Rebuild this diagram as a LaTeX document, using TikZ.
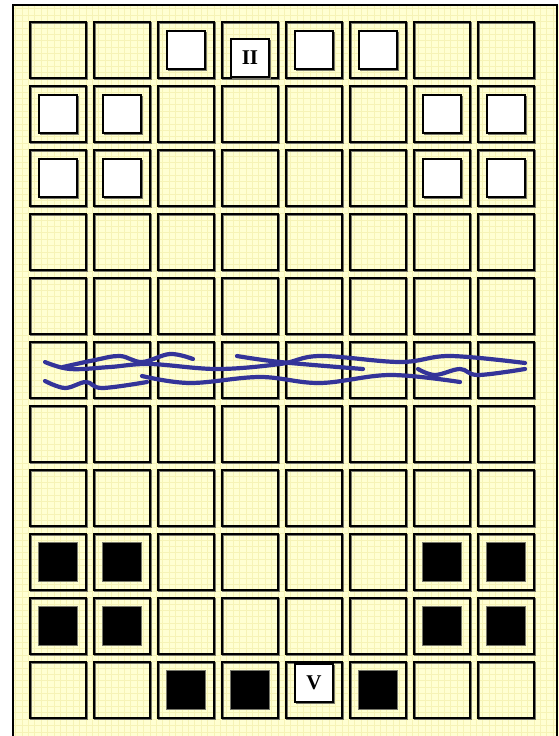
\documentclass[tikz,border=0pt]{standalone}
\usepackage{fontspec}
\setmainfont{Liberation Serif}
\definecolor{brdCream}{HTML}{FFFFD2}
\definecolor{brdGrid}{HTML}{F6F3B6}
\definecolor{brdBlue}{HTML}{343499}
\definecolor{brdShade}{HTML}{77776A}
\tikzset{
  brd frame/.style={draw=black, line width=2pt},
  brd grid/.style={draw=brdGrid, line width=0.5pt},
  brd cell/.style={rectangle, draw=black, line width=2pt, minimum size=56pt, inner sep=0pt, outer sep=0pt,
    preaction={draw=brdShade, line width=2pt, transform canvas={xshift=1.2pt, yshift=-1.2pt}}},
  brd white/.style={rectangle, draw=black, fill=white, line width=1.6pt, minimum size=37.5pt, inner sep=0pt,
    preaction={draw=brdShade, line width=1.6pt, transform canvas={xshift=1.2pt, yshift=-1.2pt}}},
  brd black/.style={rectangle, draw=brdShade, fill=black, line width=1pt, minimum size=39pt, inner sep=0pt},
  brd label/.style={font=\bfseries\fontsize{21}{21}\selectfont},
  brd wave/.style={draw=brdBlue, line width=4.2pt, line cap=round, line join=round},
}
\begin{document}
\begin{tikzpicture}[x=1pt,y=-1pt]
  \useasboundingbox (0,0) rectangle (559,736);
  % Board background with its fine grid
  \fill[brdCream] (12.8,4.8) rectangle (559,736);
  \foreach \gx in {15.4,21.8,...,556} \draw[brd grid] (\gx,5) -- (\gx,736);
  \foreach \gy in {8.6,15,...,736} \draw[brd grid] (13,\gy) -- (556,\gy);
  \draw[brd frame] (12.8,745) -- (12.8,4.8) -- (556.8,4.8) -- (556.8,745);
  % Eleven rows of eight squares
  \foreach \r in {1,...,11}
    \foreach \c in {1,...,8}
      \node[brd cell] (c-\r-\c) at ({58+64*(\c-1)},{50+64*(\r-1)}) {};
  % White pieces at the top
  \foreach \r/\c in {1/3,1/5,1/6,2/1,2/2,2/7,2/8,3/1,3/2,3/7,3/8}
    \node[brd white] (w-\r-\c) at (c-\r-\c) {};
  \node[brd white, brd label] (w-ii) at ([yshift=-8pt]c-1-4) {II};
  % Black pieces at the bottom
  \foreach \r/\c in {9/1,9/2,9/7,9/8,10/1,10/2,10/7,10/8,11/3,11/4,11/6}
    \node[brd black] (k-\r-\c) at (c-\r-\c) {};
  \node[brd white, brd label] (w-v) at ([yshift=7pt]c-11-5) {V};
  % River across the sixth row
  \draw[brd wave] plot[smooth, tension=0.6] coordinates {(45,362) (70,369) (110,367) (150,364) (217,369) (280,364) (320,356) (400,362) (450,356) (525,363)};
  \draw[brd wave] plot[smooth, tension=0.6] coordinates {(63,367) (95,360) (120,356) (142,362) (170,354) (193,359)};
  \draw[brd wave] plot[smooth, tension=0.6] coordinates {(237,356) (280,362) (363,369)};
  \draw[brd wave] plot[smooth, tension=0.6] coordinates {(45,381) (65,388) (86,382) (102,388) (147,382)};
  \draw[brd wave] plot[smooth, tension=0.6] coordinates {(142,376) (190,383) (260,377) (320,383) (390,375) (460,382)};
  \draw[brd wave] plot[smooth, tension=0.6] coordinates {(418,369) (435,375) (460,369) (478,375) (525,369)};
\end{tikzpicture}
\end{document}
